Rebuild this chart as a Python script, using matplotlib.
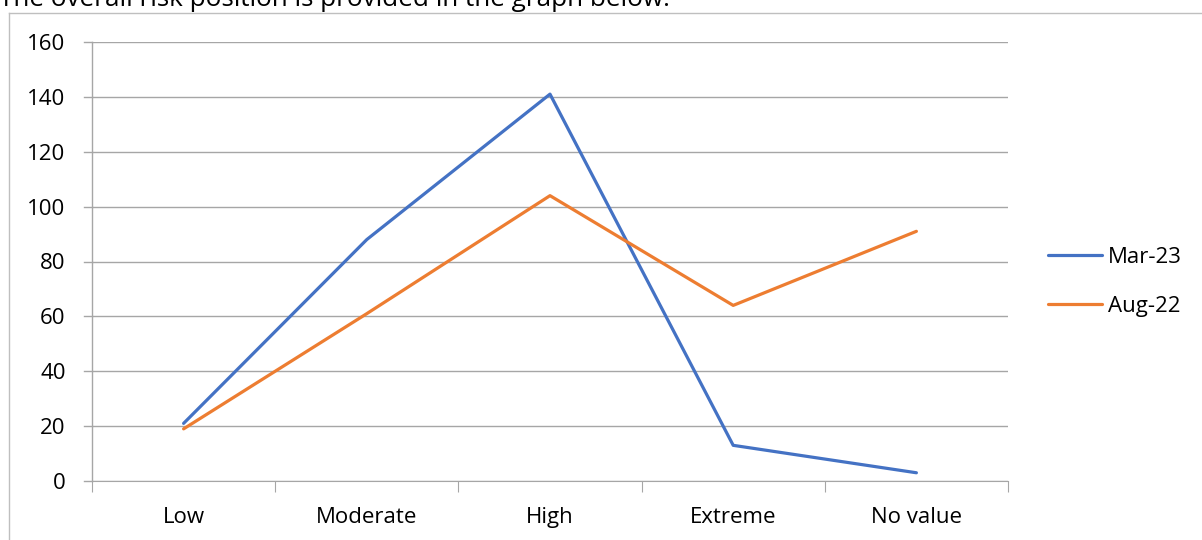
import matplotlib
matplotlib.use("Agg")
import matplotlib.pyplot as plt
from matplotlib.lines import Line2D

categories = ["Low", "Moderate", "High", "Extreme", "No value"]
mar23 = [21, 88, 141, 13, 3]
aug22 = [19, 61, 104, 64, 91]
yticks = [0, 20, 40, 60, 80, 100, 120, 140, 160]

W, H = 1202, 540
fig = plt.figure(figsize=(W/100, H/100), dpi=100)
plt.rcParams['font.family'] = ['Open Sans', 'DejaVu Sans']
FS = 16

def fx(px): return px / W
def fy(py): return 1 - py / H

ax = fig.add_axes([fx(92), fy(481), fx(1008) - fx(92), fy(42) - fy(481)])
x = list(range(len(categories)))
ax.plot(x, mar23, color='#4472C4', lw=2.3, solid_capstyle='round', label='Mar-23')
ax.plot(x, aug22, color='#ED7D31', lw=2.3, solid_capstyle='round', label='Aug-22')
ax.set_xlim(-0.5, len(categories) - 0.5)
ax.set_ylim(0, 160)
ax.set_yticks(yticks)
ax.set_yticklabels([str(v) for v in yticks], fontsize=FS)
ax.yaxis.grid(True, color='#a6a6a6', lw=1)
ax.set_axisbelow(True)
ax.set_xticks([i - 0.5 for i in range(len(categories) + 1)], minor=False)
ax.set_xticklabels([''] * (len(categories) + 1))
ax.set_xticks(x, minor=True)
ax.set_xticklabels(categories, minor=True, fontsize=FS)
ax.tick_params(axis='x', which='major', length=8, color='#a6a6a6', direction='out')
ax.tick_params(axis='x', which='minor', length=0, pad=19)
for s in ['top', 'right', 'left']:
    ax.spines[s].set_visible(False)
ax.spines['bottom'].set_color('#a6a6a6')
ax.tick_params(axis='y', length=0, pad=19)
for v in yticks:
    ax.plot([-0.5 - 0.045, -0.5], [v, v], color='#a6a6a6', lw=1, clip_on=False)
ax.plot([-0.5, -0.5], [0, 160], color='#a6a6a6', lw=1, clip_on=False)

leg = fig.legend(loc='upper left', bbox_to_anchor=(fx(1048), fy(247)), frameon=False,
                 fontsize=FS, handlelength=2.45, handletextpad=0.25, labelspacing=1.25,
                 borderpad=0, borderaxespad=0)

# outer frame
fig.add_artist(Line2D([fx(9), fx(9)], [fy(13), 0], color='#bfbfbf', lw=1))
fig.add_artist(Line2D([fx(9), 1], [fy(13), fy(13)], color='#bfbfbf', lw=1))

fig.text(fx(-1), fy(6), "The overall risk position is provided in the graph below.",
         fontsize=18.8, va='baseline', ha='left')

fig.savefig('out.png', dpi=100)
